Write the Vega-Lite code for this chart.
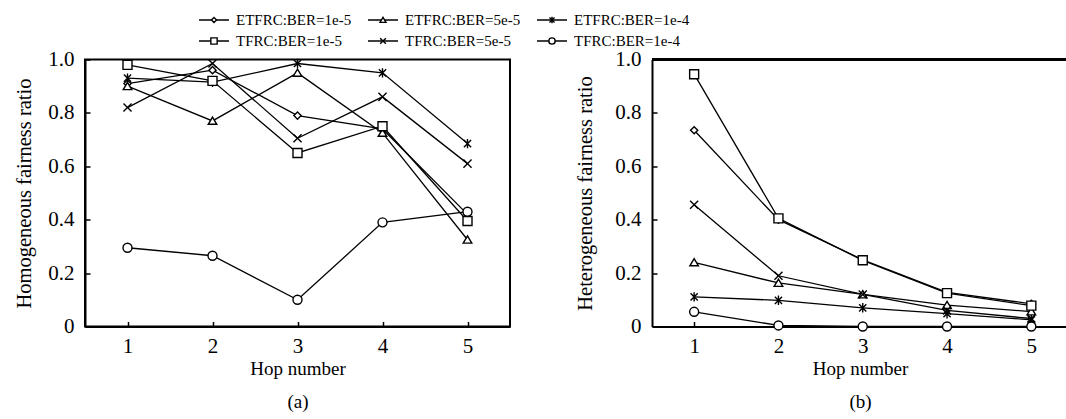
{
  "$schema": "https://vega.github.io/schema/vega-lite/v6.json",
  "padding": {"left": 12, "top": 13, "right": 0, "bottom": 0},
  "config": {
    "font": "Liberation Serif",
    "view": {"stroke": null},
    "text": {"font": "Liberation Serif"},
    "axis": {
      "grid": false,
      "domainColor": "black",
      "domainWidth": 2,
      "tickColor": "black",
      "tickWidth": 1.5,
      "tickSize": -5,
      "labelFont": "Liberation Serif",
      "labelFontSize": 21,
      "labelColor": "black",
      "titleFont": "Liberation Serif",
      "titleFontSize": 19,
      "titleFontWeight": "normal",
      "titleColor": "black"
    }
  },
  "datasets": {
    "fairness": [
      {"panel": "a", "series": "ETFRC:BER=1e-5", "hop": 1, "value": 0.91},
      {"panel": "a", "series": "ETFRC:BER=1e-5", "hop": 2, "value": 0.96},
      {"panel": "a", "series": "ETFRC:BER=1e-5", "hop": 3, "value": 0.79},
      {"panel": "a", "series": "ETFRC:BER=1e-5", "hop": 4, "value": 0.74},
      {"panel": "a", "series": "ETFRC:BER=1e-5", "hop": 5, "value": 0.42},
      {"panel": "a", "series": "ETFRC:BER=5e-5", "hop": 1, "value": 0.9},
      {"panel": "a", "series": "ETFRC:BER=5e-5", "hop": 2, "value": 0.77},
      {"panel": "a", "series": "ETFRC:BER=5e-5", "hop": 3, "value": 0.95},
      {"panel": "a", "series": "ETFRC:BER=5e-5", "hop": 4, "value": 0.725},
      {"panel": "a", "series": "ETFRC:BER=5e-5", "hop": 5, "value": 0.325},
      {"panel": "a", "series": "ETFRC:BER=1e-4", "hop": 1, "value": 0.93},
      {"panel": "a", "series": "ETFRC:BER=1e-4", "hop": 2, "value": 0.915},
      {"panel": "a", "series": "ETFRC:BER=1e-4", "hop": 3, "value": 0.985},
      {"panel": "a", "series": "ETFRC:BER=1e-4", "hop": 4, "value": 0.95},
      {"panel": "a", "series": "ETFRC:BER=1e-4", "hop": 5, "value": 0.685},
      {"panel": "a", "series": "TFRC:BER=1e-5", "hop": 1, "value": 0.98},
      {"panel": "a", "series": "TFRC:BER=1e-5", "hop": 2, "value": 0.92},
      {"panel": "a", "series": "TFRC:BER=1e-5", "hop": 3, "value": 0.65},
      {"panel": "a", "series": "TFRC:BER=1e-5", "hop": 4, "value": 0.75},
      {"panel": "a", "series": "TFRC:BER=1e-5", "hop": 5, "value": 0.395},
      {"panel": "a", "series": "TFRC:BER=5e-5", "hop": 1, "value": 0.82},
      {"panel": "a", "series": "TFRC:BER=5e-5", "hop": 2, "value": 0.985},
      {"panel": "a", "series": "TFRC:BER=5e-5", "hop": 3, "value": 0.705},
      {"panel": "a", "series": "TFRC:BER=5e-5", "hop": 4, "value": 0.86},
      {"panel": "a", "series": "TFRC:BER=5e-5", "hop": 5, "value": 0.61},
      {"panel": "a", "series": "TFRC:BER=1e-4", "hop": 1, "value": 0.295},
      {"panel": "a", "series": "TFRC:BER=1e-4", "hop": 2, "value": 0.265},
      {"panel": "a", "series": "TFRC:BER=1e-4", "hop": 3, "value": 0.1},
      {"panel": "a", "series": "TFRC:BER=1e-4", "hop": 4, "value": 0.39},
      {"panel": "a", "series": "TFRC:BER=1e-4", "hop": 5, "value": 0.43},
      {"panel": "b", "series": "ETFRC:BER=1e-5", "hop": 1, "value": 0.735},
      {"panel": "b", "series": "ETFRC:BER=1e-5", "hop": 2, "value": 0.4},
      {"panel": "b", "series": "ETFRC:BER=1e-5", "hop": 3, "value": 0.25},
      {"panel": "b", "series": "ETFRC:BER=1e-5", "hop": 4, "value": 0.128},
      {"panel": "b", "series": "ETFRC:BER=1e-5", "hop": 5, "value": 0.085},
      {"panel": "b", "series": "ETFRC:BER=5e-5", "hop": 1, "value": 0.24},
      {"panel": "b", "series": "ETFRC:BER=5e-5", "hop": 2, "value": 0.163},
      {"panel": "b", "series": "ETFRC:BER=5e-5", "hop": 3, "value": 0.12},
      {"panel": "b", "series": "ETFRC:BER=5e-5", "hop": 4, "value": 0.08},
      {"panel": "b", "series": "ETFRC:BER=5e-5", "hop": 5, "value": 0.056},
      {"panel": "b", "series": "ETFRC:BER=1e-4", "hop": 1, "value": 0.111},
      {"panel": "b", "series": "ETFRC:BER=1e-4", "hop": 2, "value": 0.098},
      {"panel": "b", "series": "ETFRC:BER=1e-4", "hop": 3, "value": 0.07},
      {"panel": "b", "series": "ETFRC:BER=1e-4", "hop": 4, "value": 0.048},
      {"panel": "b", "series": "ETFRC:BER=1e-4", "hop": 5, "value": 0.025},
      {"panel": "b", "series": "TFRC:BER=1e-5", "hop": 1, "value": 0.945},
      {"panel": "b", "series": "TFRC:BER=1e-5", "hop": 2, "value": 0.405},
      {"panel": "b", "series": "TFRC:BER=1e-5", "hop": 3, "value": 0.248},
      {"panel": "b", "series": "TFRC:BER=1e-5", "hop": 4, "value": 0.125},
      {"panel": "b", "series": "TFRC:BER=1e-5", "hop": 5, "value": 0.078},
      {"panel": "b", "series": "TFRC:BER=5e-5", "hop": 1, "value": 0.456},
      {"panel": "b", "series": "TFRC:BER=5e-5", "hop": 2, "value": 0.19},
      {"panel": "b", "series": "TFRC:BER=5e-5", "hop": 3, "value": 0.12},
      {"panel": "b", "series": "TFRC:BER=5e-5", "hop": 4, "value": 0.06},
      {"panel": "b", "series": "TFRC:BER=5e-5", "hop": 5, "value": 0.03},
      {"panel": "b", "series": "TFRC:BER=1e-4", "hop": 1, "value": 0.055},
      {"panel": "b", "series": "TFRC:BER=1e-4", "hop": 2, "value": 0.004},
      {"panel": "b", "series": "TFRC:BER=1e-4", "hop": 3, "value": 0},
      {"panel": "b", "series": "TFRC:BER=1e-4", "hop": 4, "value": 0},
      {"panel": "b", "series": "TFRC:BER=1e-4", "hop": 5, "value": 0}
    ],
    "legendItems": [
      {"series": "ETFRC:BER=1e-5", "col": 0, "row": 0},
      {"series": "ETFRC:BER=5e-5", "col": 1, "row": 0},
      {"series": "ETFRC:BER=1e-4", "col": 2, "row": 0},
      {"series": "TFRC:BER=1e-5", "col": 0, "row": 1},
      {"series": "TFRC:BER=5e-5", "col": 1, "row": 1},
      {"series": "TFRC:BER=1e-4", "col": 2, "row": 1}
    ]
  },
  "bounds": "flush",
  "spacing": 18.5,
  "vconcat": [
    {
      "width": 720,
      "height": 21,
      "data": {"name": "legendItems"},
      "encoding": {
        "x": {"field": "col", "type": "quantitative", "scale": {"domain": [-0.7633, 3.497], "nice": false, "zero": false}, "axis": null},
        "y": {"field": "row", "type": "quantitative", "scale": {"domain": [0, 1], "reverse": true, "nice": false, "zero": false}, "axis": null}
      },
      "layer": [
        {"mark": {"type": "rule", "color": "black", "strokeWidth": 1.5, "xOffset": -15, "x2Offset": 15}, "encoding": {"x2": {"field": "col"}}},
        {"mark": {"type": "point", "filled": true, "fill": "white", "stroke": "black", "strokeWidth": 1.4, "size": 40, "opacity": 1},
         "encoding": {"shape": {"field": "series", "type": "nominal", "legend": null,
           "scale": {"domain": ["ETFRC:BER=1e-5", "ETFRC:BER=5e-5", "ETFRC:BER=1e-4", "TFRC:BER=1e-5", "TFRC:BER=5e-5", "TFRC:BER=1e-4"],
                     "range": ["M0,-0.8L0.8,0L0,0.8L-0.8,0Z", "M0,-0.85L0.95,0.75L-0.95,0.75Z", "M-0.8,-0.8L0.8,0.8M-0.8,0.8L0.8,-0.8M0,-1.05L0,1.05", "square", "M-0.9,-0.9L0.9,0.9M-0.9,0.9L0.9,-0.9", "circle"]}}}},
        {"mark": {"type": "text", "align": "left", "baseline": "middle", "dx": 22, "fontSize": 15, "font": "Liberation Serif", "color": "black"},
         "encoding": {"text": {"field": "series"}}}
      ]
    },
    {
      "bounds": "flush",
      "spacing": 142,
      "hconcat": [
        {
          "width": 425,
          "height": 267,
          "view": {"stroke": "black", "strokeWidth": 2},
          "data": {"name": "fairness"},
          "transform": [{"filter": "datum.panel == 'a'"}],
          "encoding": {
            "x": {"field": "hop", "type": "quantitative", "scale": {"domain": [0.5, 5.5], "nice": false, "zero": false},
                  "axis": {"values": [1, 2, 3, 4, 5], "format": "d", "labelPadding": 14, "labelFont": "Liberation Serif", "titleFont": "Liberation Serif", "title": ["Hop number", "(a)"], "titleLineHeight": 33, "titlePadding": 3}},
            "y": {"field": "value", "type": "quantitative", "scale": {"domain": [0, 1], "nice": false, "zero": false},
                  "axis": {"values": [0, 0.2, 0.4, 0.6, 0.8, 1.0], "labelExpr": "datum.value == 0 ? '0' : format(datum.value, '.1f')", "labelPadding": 16, "labelFont": "Liberation Serif", "titleFont": "Liberation Serif", "titleFontSize": 20.5, "title": "Homogeneous fairness ratio", "titleX": -61, "titleBaseline": "middle"}}
          },
          "layer": [
            {"mark": {"type": "line", "color": "black", "strokeWidth": 1.3}, "encoding": {"detail": {"field": "series"}}},
            {"mark": {"type": "point", "filled": true, "fill": "white", "stroke": "black", "strokeWidth": 1.4, "size": 81, "opacity": 1},
             "encoding": {"shape": {"field": "series", "type": "nominal", "legend": null,
               "scale": {"domain": ["ETFRC:BER=1e-5", "ETFRC:BER=5e-5", "ETFRC:BER=1e-4", "TFRC:BER=1e-5", "TFRC:BER=5e-5", "TFRC:BER=1e-4"],
                         "range": ["M0,-0.8L0.8,0L0,0.8L-0.8,0Z", "M0,-0.85L0.95,0.75L-0.95,0.75Z", "M-0.8,-0.8L0.8,0.8M-0.8,0.8L0.8,-0.8M0,-1.05L0,1.05", "square", "M-0.9,-0.9L0.9,0.9M-0.9,0.9L0.9,-0.9", "circle"]}}}}
          ]
        },
        {
          "width": 416,
          "height": 267,
          "data": {"name": "fairness"},
          "transform": [{"filter": "datum.panel == 'b'"}],
          "encoding": {
            "x": {"field": "hop", "type": "quantitative", "scale": {"domain": [0.5, 5.435], "nice": false, "zero": false},
                  "axis": {"values": [1, 2, 3, 4, 5], "format": "d", "labelPadding": 14, "labelFont": "Liberation Serif", "titleFont": "Liberation Serif", "title": ["Hop number", "(b)"], "titleLineHeight": 33, "titlePadding": 3}},
            "y": {"field": "value", "type": "quantitative", "scale": {"domain": [0, 1], "nice": false, "zero": false},
                  "axis": {"values": [0, 0.2, 0.4, 0.6, 0.8, 1.0], "labelExpr": "datum.value == 0 ? '0' : format(datum.value, '.1f')", "labelPadding": 16, "labelFont": "Liberation Serif", "titleFont": "Liberation Serif", "titleFontSize": 20.5, "title": "Heterogeneous fairness ratio", "titleX": -67, "titleBaseline": "middle"}}
          },
          "layer": [
            {"mark": {"type": "rule", "color": "black", "strokeWidth": 2}, "encoding": {"y": {"datum": 1}, "x": null}},
            {"mark": {"type": "line", "color": "black", "strokeWidth": 1.3}, "encoding": {"detail": {"field": "series"}}},
            {"mark": {"type": "point", "filled": true, "fill": "white", "stroke": "black", "strokeWidth": 1.4, "size": 81, "opacity": 1},
             "encoding": {"shape": {"field": "series", "type": "nominal", "legend": null,
               "scale": {"domain": ["ETFRC:BER=1e-5", "ETFRC:BER=5e-5", "ETFRC:BER=1e-4", "TFRC:BER=1e-5", "TFRC:BER=5e-5", "TFRC:BER=1e-4"],
                         "range": ["M0,-0.8L0.8,0L0,0.8L-0.8,0Z", "M0,-0.85L0.95,0.75L-0.95,0.75Z", "M-0.8,-0.8L0.8,0.8M-0.8,0.8L0.8,-0.8M0,-1.05L0,1.05", "square", "M-0.9,-0.9L0.9,0.9M-0.9,0.9L0.9,-0.9", "circle"]}}}}
          ]
        }
      ]
    }
  ]
}
